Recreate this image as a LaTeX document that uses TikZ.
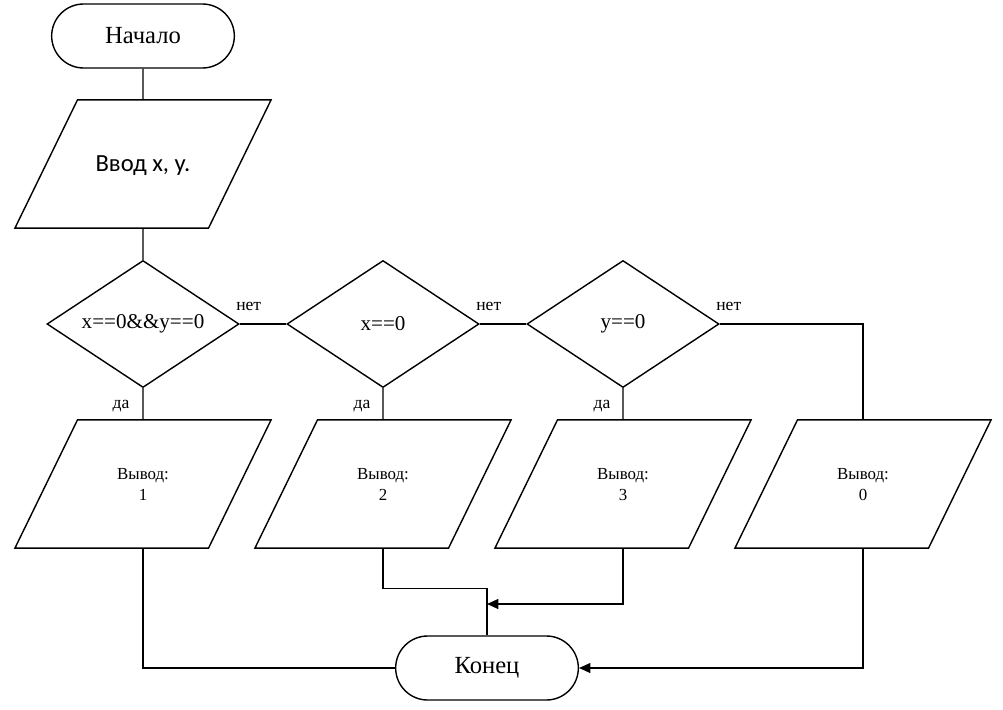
\documentclass[tikz,border=0pt]{standalone}
\usepackage{fontspec}
\setmainfont{Liberation Serif}
\newfontfamily\calibri{Carlito}
\usetikzlibrary{shapes.geometric,shapes.misc,arrows.meta}

\tikzset{every picture/.style={line width=1pt}}
\tikzset{
	term/.style={rounded rectangle,draw,minimum width=4.8cm,minimum height=1.6cm,font=\fontsize{17.5}{20}\selectfont},
	io/.style={trapezium,trapezium left angle=64,trapezium right angle=116,trapezium stretches body,draw,minimum width=6.4cm,align=center,inner xsep=0pt,
		text height=23pt,text depth=0pt,inner ysep=34.05pt,font=\fontsize{12}{15}\selectfont},
	inbox/.style={io,text height=12pt,text depth=0.7pt,inner ysep=39.2pt,font=\calibri\fontsize{17.5}{20}\selectfont},
	cond/.style={diamond,draw,aspect=1.5,minimum width=4.8cm,minimum height=3.175cm,inner sep=0pt,font=\fontsize{15}{18}\selectfont},
	lbl/.style={font=\fontsize{12.5}{15}\selectfont,inner sep=0pt},
	arr/.style={-{Triangle[length=8pt,width=7pt]}}
}

\begin{document}
\begin{tikzpicture}[x=0.025cm,y=-0.025cm]
			\useasboundingbox (0,0) rectangle (1003,709);
			\node [term] (start) at (143,36) {Начало};
			\node [inbox] (input) at (143,164) {Ввод x, y.};
			\node [cond] (c1) at (143,324) {x==0\&\&y==0};
			\node [cond] (c2) at (383,324) {x==0};
			\node [cond] (c3) at (623,324) {y==0};
			\node [io] (out1) at (143,484) {Вывод:\\1};
			\node [io] (out2) at (383,484) {Вывод:\\2};
			\node [io] (out3) at (623,484) {Вывод:\\3};
			\node [io] (out4) at (863,484) {Вывод:\\0};
			\node [term] (finish) at (487,668) {Конец};
			\coordinate (join) at (487,604);

			\draw (start) -- (input);
			\draw (input) -- (c1);
			\draw (c1) -- (c2);
			\draw (c2) -- (c3);
			\draw (c3.east) -| (out4.north);
			\draw (c1) -- (out1);
			\draw (c2) -- (out2);
			\draw (c3) -- (out3);
			\draw (out1.south) |- (finish.west);
			\draw (out2.south) -- ++(0,40) -| (finish.north);
			\draw [arr] (out3.south) |- (join);
			\draw [arr] (out4.south) |- (finish.east);

			\node [lbl] (no1) at ([shift={(9,-18)}]c1.east) {нет};
			\node [lbl] (no2) at ([shift={(9,-18)}]c2.east) {нет};
			\node [lbl] (no3) at ([shift={(9,-18)}]c3.east) {нет};
			\node [lbl] (yes1) at ([shift={(-22,18)}]c1.south) {да};
			\node [lbl] (yes2) at ([shift={(-21,18)}]c2.south) {да};
			\node [lbl] (yes3) at ([shift={(-21,18)}]c3.south) {да};
		\end{tikzpicture}
\end{document}
